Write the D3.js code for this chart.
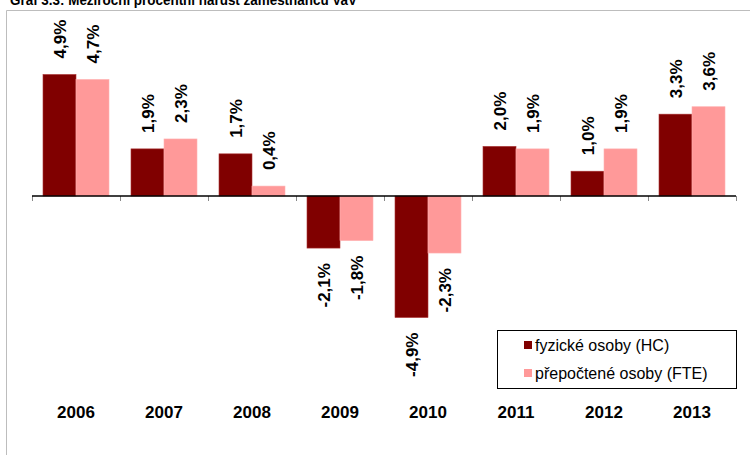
<!doctype html>
<html lang="cs">
<head>
<meta charset="utf-8">
<title>Meziroční procentní nárůst</title>
<style>
  body { margin: 0; background: #fff; }
  svg text { font-family: "Liberation Sans", Arial, sans-serif; }
</style>
</head>
<body>
<div id="chart"></div>
<script src="https://d3js.org/d3.v7.min.js"></script>
<script>
var years = ["2006", "2007", "2008", "2009", "2010", "2011", "2012", "2013"];
var hc = [4.9, 1.9, 1.7, -2.1, -4.9, 2.0, 1.0, 3.3];
var fte = [4.7, 2.3, 0.4, -1.8, -2.3, 1.9, 1.9, 3.6];
var seriesNames = ["fyzické osoby (HC)", "přepočtené osoby (FTE)"];
var colors = ["#800000", "#ff9999"];

var width = 750, height = 455;

var svg = d3.select("#chart")
  .append("svg")
    .attr("width", width)
    .attr("height", height);

// frame + title (cut off at the top, as in the source)
svg.append("text")
  .attr("x", 10)
  .attr("y", 5)
  .attr("textLength", 347)
  .attr("lengthAdjust", "spacingAndGlyphs")
  .style("font-size", "15px")
  .style("font-weight", "bold")
  .text("Graf 3.3: Meziroční procentní nárůst zaměstnanců VaV");

svg.append("path")
  .attr("d", "M6.5," + height + "V10.5H" + width)
  .attr("fill", "none")
  .attr("stroke", "#bdbdbd");

// scales
var x = d3.scaleBand()
  .domain(years)
  .range([32, 736])
  .paddingInner(0.25)
  .paddingOuter(0.125);

var x1 = d3.scaleBand()
  .domain([0, 1])
  .range([0, x.bandwidth()]);

var y = d3.scaleLinear()
  .domain([-6, 6])
  .range([196 + 6 * 24.8, 196 - 6 * 24.8]);

var step = (736 - 32) / years.length;

// bars
var groups = svg.append("g")
  .selectAll("g")
  .data(years)
  .enter()
  .append("g")
    .attr("transform", function (d) { return "translate(" + x(d) + ",0)"; });

var rows = years.map(function (d, i) { return [hc[i], fte[i]]; });

groups.each(function (d, i) {
  var g = d3.select(this);
  rows[i].forEach(function (v, s) {
    g.append("rect")
      .attr("x", x1(s))
      .attr("width", x1.bandwidth())
      .attr("y", y(Math.max(0, v)))
      .attr("height", Math.abs(y(v) - y(0)))
      .attr("fill", colors[s])
      .attr("stroke", s === 0 ? "#a33" : "#ffb3b3")
      .attr("stroke-width", 0.6);

    var cx = x1(s) + x1.bandwidth() / 2;
    var ly = v >= 0 ? y(v) - 16 : y(v) + 15;
    g.append("text")
      .attr("transform", "translate(" + cx + "," + ly + ") rotate(-90)")
      .attr("text-anchor", v >= 0 ? "start" : "end")
      .attr("dy", "0.36em")
      .style("font-size", "17px")
      .style("font-weight", "bold")
      .text(d3.format(".1f")(v).replace(".", ",").replace("−", "-") + "%");
  });
});

// zero axis with ticks
var axis = svg.append("g");
axis.selectAll("line.tick")
  .data(d3.range(years.length + 1))
  .enter()
  .append("line")
    .attr("x1", function (d) { return 32.5 + d * step; })
    .attr("x2", function (d) { return 32.5 + d * step; })
    .attr("y1", y(0))
    .attr("y2", y(0) + 5)
    .attr("stroke", "#888");
axis.append("line")
  .attr("x1", 32)
  .attr("x2", 736)
  .attr("y1", y(0))
  .attr("y2", y(0))
  .attr("stroke", "#000")
  .attr("stroke-width", 1.5);

// year labels
svg.append("g")
  .selectAll("text")
  .data(years)
  .enter()
  .append("text")
    .attr("x", function (d) { return x(d) + x.bandwidth() / 2; })
    .attr("y", 418)
    .attr("text-anchor", "middle")
    .style("font-size", "17px")
    .style("font-weight", "bold")
    .text(function (d) { return d; });

// legend
var legend = svg.append("g");
legend.append("rect")
  .attr("x", 497.5)
  .attr("y", 330.5)
  .attr("width", 239)
  .attr("height", 58)
  .attr("fill", "#fff")
  .attr("stroke", "#000");

seriesNames.forEach(function (n, i) {
  legend.append("rect")
    .attr("x", 524)
    .attr("y", 341 + i * 28)
    .attr("width", 8)
    .attr("height", 8)
    .attr("fill", colors[i]);
  legend.append("text")
    .attr("x", 535)
    .attr("y", 350.5 + i * 28)
    .style("font-size", "16px")
    .text(n);
});
</script>
</body>
</html>
